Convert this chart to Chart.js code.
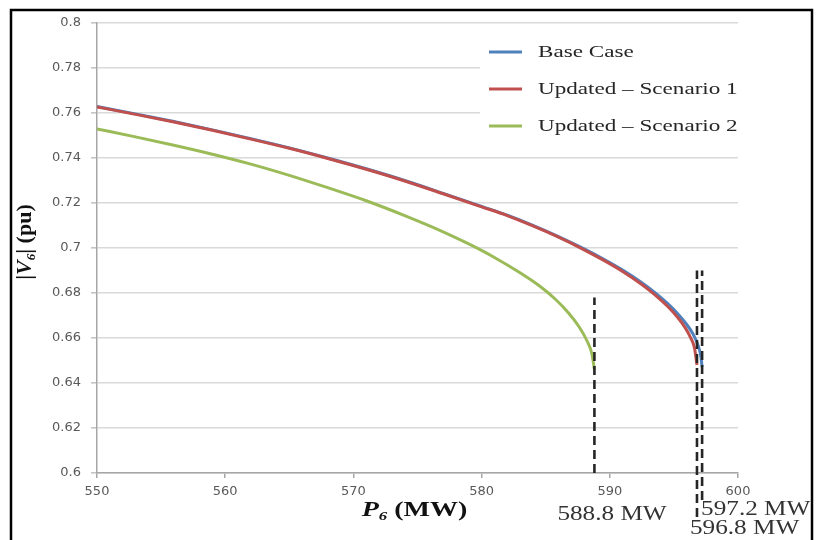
<!DOCTYPE html>
<html>
<head>
<meta charset="utf-8">
<script src="https://cdn.jsdelivr.net/npm/chart.js@4.4.0/dist/chart.umd.min.js"></script>
<style>
  html, body { margin: 0; padding: 0; background: #fff; }
  #wrap { width: 819px; height: 540px; }
</style>
</head>
<body>
<div id="wrap"><canvas id="myChart" width="819" height="540"></canvas></div>
<script>
// series names and colours (legend order)
const seriesNames = ['Base Case', 'Updated – Scenario 1', 'Updated – Scenario 2'];
const seriesColors = ['#4f81bd', '#c0504d', '#9bbb59'];

// Base case P6 (MW) / |V6| (pu)
const pBase = [550, 553, 556, 559, 562, 565, 568, 571, 574, 577, 580, 582, 584, 586, 588, 589.5, 591, 592.5, 593.5, 594.5, 595.3, 596, 596.5, 596.9, 597.1, 597.2];
const vBase = [0.7629, 0.7596, 0.7562, 0.7525, 0.7486, 0.7445, 0.7400, 0.7352, 0.7300, 0.7243, 0.7185, 0.7146, 0.7101, 0.7051, 0.6996, 0.6951, 0.6902, 0.6846, 0.6803, 0.6754, 0.6708, 0.6660, 0.6617, 0.6565, 0.6520, 0.6470];

// Updated - scenario 1
const pScen1 = [550, 553, 556, 559, 562, 565, 568, 571, 574, 577, 580, 582, 584, 586, 588, 589.5, 591, 592.5, 593.5, 594.5, 595.3, 595.9, 596.3, 596.6, 596.8];
const vScen1 = [0.7627, 0.7594, 0.7560, 0.7523, 0.7484, 0.7443, 0.7398, 0.7350, 0.7298, 0.7241, 0.7183, 0.7144, 0.7098, 0.7048, 0.6992, 0.6946, 0.6896, 0.6838, 0.6793, 0.6741, 0.6691, 0.6644, 0.6602, 0.6557, 0.6480];

// Updated - scenario 2
const pScen2 = [550, 553, 556, 559, 562, 565, 568, 571, 574, 577, 579, 581, 583, 584.5, 585.8, 586.8, 587.6, 588.2, 588.6, 588.8];
const vScen2 = [0.7529, 0.7494, 0.7457, 0.7417, 0.7373, 0.7323, 0.7268, 0.7210, 0.7144, 0.7072, 0.7018, 0.6958, 0.6890, 0.6832, 0.6770, 0.6710, 0.6650, 0.6590, 0.6530, 0.6460];

// dashed limit markers
const limitP = [588.8, 596.8, 597.2];
const limitTop = [0.678, 0.69, 0.69];
const limitBottom = [0.6, 0.5805, 0.588];
const limitLabels = ['588.8 MW', '596.8 MW', '597.2 MW'];

// axis ticks
const xTicks = [550, 560, 570, 580, 590, 600];
const yTicks = [0.6, 0.62, 0.64, 0.66, 0.68, 0.7, 0.72, 0.74, 0.76, 0.78, 0.8];

function toPoints(xs, ys) {
    return xs.map((x, i) => ({ x: x, y: ys[i] }));
}

const curveSets = [
    { p: pBase, v: vBase, order: 2 },
    { p: pScen1, v: vScen1, order: 1 },
    { p: pScen2, v: vScen2, order: 3 }
].map((s, i) => ({
    label: seriesNames[i],
    data: toPoints(s.p, s.v),
    borderColor: seriesColors[i],
    borderWidth: 3,
    pointRadius: 0,
    cubicInterpolationMode: 'monotone',
    fill: false,
    order: s.order
}));

const limitSets = limitP.map((p, i) => ({
    label: limitLabels[i],
    data: [{ x: p, y: limitBottom[i] }, { x: p, y: limitTop[i] }],
    borderColor: '#262626',
    borderWidth: 2.6,
    borderDash: [9, 5],
    pointRadius: 0,
    fill: false,
    clip: false,
    order: 0
}));

// draws text stretched horizontally like the source picture
function stretchText(ctx, text, x, y, sx) {
    ctx.save();
    ctx.translate(x, y);
    ctx.scale(sx, 1);
    ctx.fillText(text, 0, 0);
    ctx.restore();
}

const decor = {
    id: 'decor',
    beforeDatasetsDraw(chart) {
        const ctx = chart.ctx;
        const area = chart.chartArea;
        ctx.save();
        // legend box hides grid lines
        ctx.fillStyle = '#fff';
        ctx.fillRect(area.right - 258, area.top + 9, 276, 118);
        ctx.font = '17px "Liberation Serif", serif';
        ctx.fillStyle = '#262626';
        ctx.textBaseline = 'middle';
        seriesNames.forEach((name, i) => {
            const y = area.top + 29 + i * 37;
            ctx.strokeStyle = seriesColors[i];
            ctx.lineWidth = 3;
            ctx.beginPath();
            ctx.moveTo(area.right - 249, y);
            ctx.lineTo(area.right - 216, y);
            ctx.stroke();
            stretchText(ctx, name, area.right - 200, y + 1, 1.36);
        });
        ctx.restore();
    },
    afterDraw(chart) {
        const ctx = chart.ctx;
        const area = chart.chartArea;
        const xs = chart.scales.x;
        ctx.save();
        ctx.fillStyle = '#333';
        ctx.textBaseline = 'alphabetic';
        ctx.font = '20px "Liberation Serif", serif';
        // limit labels
        const offs = [[-37, 520], [-7, 534], [-1, 515]];
        limitP.forEach((p, i) => {
            stretchText(ctx, limitLabels[i], xs.getPixelForValue(p) + offs[i][0], offs[i][1], 1.26);
        });

        // x axis title  P6 (MW)
        ctx.fillStyle = '#111';
        const big = 'bold 20px "Liberation Serif", serif';
        const bigIt = 'bold italic 20px "Liberation Serif", serif';
        const small = 'bold italic 12px "Liberation Serif", serif';
        const parts = [['P', bigIt, 0], ['6', small, 4], [' (MW)', big, 0]];
        let w = 0;
        parts.forEach(pt => { ctx.font = pt[1]; w += ctx.measureText(pt[0]).width; });
        const sx = 1.4;
        let cx = (area.left + area.right) / 2 - 3 - w * sx / 2;
        parts.forEach(pt => {
            ctx.font = pt[1];
            stretchText(ctx, pt[0], cx, 516 + pt[2], sx);
            cx += ctx.measureText(pt[0]).width * sx;
        });

        // y axis title  |V6| (pu)
        const bigY = 'bold 22px "Liberation Serif", serif';
        const itY = 'bold italic 22px "Liberation Serif", serif';
        const smallY = 'bold italic 13px "Liberation Serif", serif';
        const yparts = [['|', bigY, 0], ['V', itY, 0], ['6', smallY, 4], ['|', bigY, 0], [' (pu)', bigY, 0]];
        let wy = 0;
        yparts.forEach(pt => { ctx.font = pt[1]; wy += ctx.measureText(pt[0]).width; });
        ctx.translate(31, 242);
        ctx.rotate(-Math.PI / 2);
        let cy = -wy / 2;
        yparts.forEach(pt => {
            ctx.font = pt[1];
            ctx.fillText(pt[0], cy, pt[2]);
            cy += ctx.measureText(pt[0]).width;
        });
        ctx.restore();

        // outer frame
        ctx.save();
        ctx.strokeStyle = '#000';
        ctx.lineWidth = 2.5;
        ctx.strokeRect(11, 10, 801, 545);
        ctx.restore();
    }
};

const ctx = document.getElementById('myChart').getContext('2d');

const myChart = new Chart(ctx, {
    type: 'line',
    data: {
        datasets: curveSets.concat(limitSets)
    },
    options: {
        responsive: false,
        animation: false,
        devicePixelRatio: 1,
        layout: { padding: { left: 0, top: 23, right: 81, bottom: 0 } },
        plugins: {
            legend: { display: false },
            tooltip: { enabled: false }
        },
        scales: {
            x: {
                type: 'linear',
                min: 550,
                max: 600,
                afterFit: s => { s.height = 67; },
                afterBuildTicks: s => { s.ticks = xTicks.map(v => ({ value: v })); },
                ticks: {
                    color: '#595959',
                    padding: 6,
                    maxRotation: 0,
                    font: { family: '"DejaVu Sans", sans-serif', size: 13 }
                },
                grid: { drawOnChartArea: false, tickLength: 5, color: '#a6a6a6', lineWidth: 1.5 },
                border: { color: '#a6a6a6', width: 1.5 }
            },
            y: {
                min: 0.6,
                max: 0.8,
                afterFit: s => { s.width = 97; },
                afterBuildTicks: s => { s.ticks = yTicks.map(v => ({ value: v })); },
                ticks: {
                    color: '#595959',
                    padding: 10,
                    callback: v => String(Math.round(v * 100) / 100),
                    font: { family: '"DejaVu Sans", sans-serif', size: 13 }
                },
                grid: { color: '#d9d9d9', lineWidth: 1.6, tickLength: 6, tickColor: '#c4c4c4' },
                border: { color: '#a6a6a6', width: 1.5 }
            }
        }
    },
    plugins: [decor]
});
</script>
</body>
</html>
